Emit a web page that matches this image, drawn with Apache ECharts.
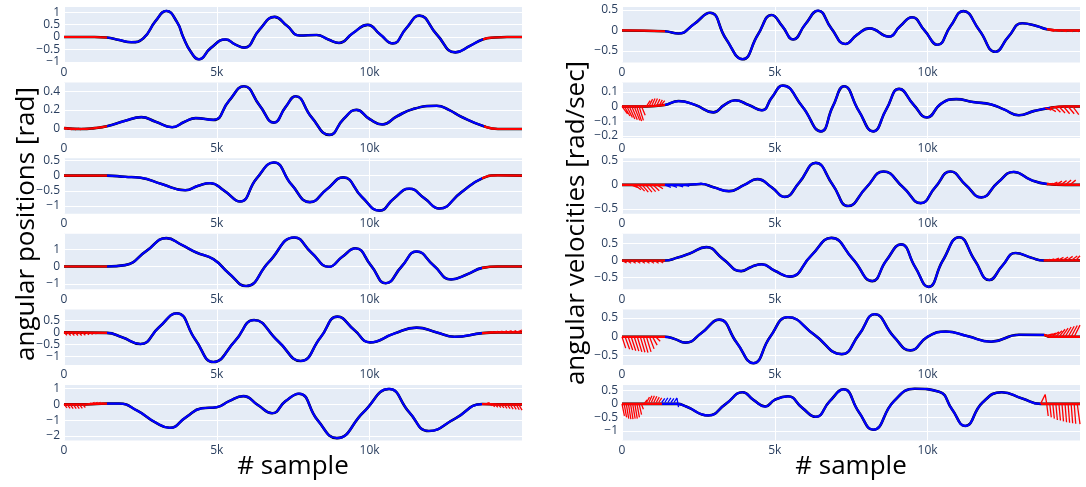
<!DOCTYPE html>
<html><head><meta charset="utf-8">
<script src="https://cdn.jsdelivr.net/npm/echarts@6/dist/echarts.min.js"></script>
<style>html,body{margin:0;padding:0;background:#fff}#c{width:1086px;height:487px}</style>
</head><body><div id="c"></div>
<script>
// ---------- data (sample index, value) ----------
const xTickValues = [0, 5000, 10000];
const xMax = 14990;

// left column: angular positions [rad]
const L1 = [[0,0],[500,0],[1000,0],[1400,-0.02],[1800,-0.12],[2200,-0.21],[2600,-0.05],[3000,0.65],[3350,1.05],[3700,0.6],[3900,0],[4150,-0.6],[4420,-0.9],[4800,-0.45],[5290,-0.1],[5600,-0.3],[5900,-0.43],[6400,0.3],[6890,0.81],[7300,0.45],[7710,0.06],[8270,0.08],[8650,-0.1],[9000,-0.24],[9450,0.15],[9940,0.49],[10350,0.1],[10760,-0.26],[11200,0.35],[11630,0.86],[12200,0.1],[12810,-0.62],[13300,-0.35],[13700,-0.1],[14100,-0.02],[14500,0],[14990,0]];
const L2 = [[0,0],[600,-0.01],[1000,0],[1400,0.02],[2000,0.08],[2530,0.12],[3000,0.07],[3540,0.01],[3950,0.07],[4310,0.11],[4890,0.09],[5400,0.3],[5890,0.46],[6400,0.25],[6870,0.06],[7250,0.23],[7580,0.35],[8100,0.12],[8690,-0.075],[9150,0.1],[9570,0.2],[10000,0.1],[10420,0.04],[10900,0.13],[11430,0.21],[12200,0.245],[12600,0.2],[13000,0.125],[13740,0.02],[14200,-0.01],[14990,-0.01]];
const L3 = [[0,0],[700,0],[1400,0],[2000,-0.04],[2500,-0.07],[3200,-0.28],[3970,-0.48],[4400,-0.33],[4780,-0.25],[5250,-0.5],[5760,-0.85],[6300,-0.1],[6870,0.43],[7450,-0.3],[8050,-0.87],[8600,-0.45],[9140,-0.06],[9750,-0.7],[10330,-1.15],[10800,-0.75],[11300,-0.43],[11800,-0.75],[12280,-1.08],[13000,-0.55],[13690,-0.09],[14200,0.01],[14990,0]];
const L4 = [[0,0],[1400,0],[2000,0.08],[2700,0.9],[3350,1.64],[3850,1.25],[4330,0.81],[4890,0.42],[5400,-0.4],[5960,-1.13],[6700,0.25],[7540,1.68],[8100,0.8],[8670,-0.02],[9100,0.55],[9540,1.05],[10050,0.05],[10530,-0.97],[11050,0],[11540,0.87],[12100,0.05],[12670,-0.75],[13200,-0.45],[13690,-0.08],[14200,0],[14990,0]];
const L5 = [[0,0],[1400,-0.02],[1900,-0.2],[2500,-0.48],[3100,0.2],[3690,0.79],[4300,-0.3],[4890,-1.22],[5600,-0.35],[6220,0.51],[7000,-0.35],[7750,-1.18],[8400,-0.2],[8950,0.65],[9500,0.1],[10020,-0.41],[10800,-0.05],[11540,0.2],[12200,0],[12780,-0.18],[13690,-0.03],[14200,0],[14990,0]];
const L6 = [[0,0],[700,0],[1400,0.05],[1800,0.05],[2400,-0.4],[3000,-1.15],[3460,-1.48],[4000,-0.8],[4500,-0.25],[5000,-0.18],[5400,0.2],[5870,0.52],[6350,-0.05],[6810,-0.56],[7250,0.2],[7690,0.67],[8300,-1.0],[8930,-2.13],[9800,-0.5],[10640,0.97],[11300,-0.5],[11940,-1.68],[12800,-0.9],[13690,0.02],[14200,0],[14990,0]];

// right column: angular velocities [rad/sec]
const R1 = [[0,0],[1400,-0.02],[1850,-0.075],[2350,0.15],[2880,0.43],[3400,-0.2],[3950,-0.7],[4450,-0.1],[4900,0.375],[5250,0.1],[5600,-0.22],[6000,0.15],[6420,0.48],[6850,0.05],[7310,-0.33],[7700,-0.1],[8100,0.05],[8730,-0.15],[9100,0.1],[9490,0.32],[9900,0],[10330,-0.35],[10750,0.1],[11170,0.47],[11700,0],[12220,-0.52],[12650,-0.15],[13100,0.175],[13600,0.1],[13900,0.03],[14400,0],[14990,0]];
const R2 = [[0,0],[800,0],[1400,0.01],[1850,0.037],[2400,0.01],[2990,-0.04],[3350,0.01],[3700,0.042],[4150,0.01],[4580,-0.026],[4900,0.06],[5260,0.143],[5900,0],[6510,-0.17],[6900,0],[7270,0.138],[7750,-0.03],[8220,-0.17],[8650,-0.02],[9070,0.12],[9550,0.01],[9980,-0.075],[10450,0.02],[10940,0.05],[11500,0.03],[12080,0.014],[12500,-0.02],[12990,-0.06],[13500,-0.03],[14000,-0.01],[14500,0],[14990,0]];
const R3 = [[0,0],[1400,0],[2000,0],[2600,0.02],[3000,-0.05],[3500,-0.13],[4000,0],[4430,0.12],[4900,-0.05],[5320,-0.25],[5800,0.05],[6340,0.46],[6900,0],[7400,-0.44],[8000,-0.05],[8560,0.28],[9200,-0.05],[9780,-0.38],[10250,-0.05],[10750,0.28],[11250,0],[11760,-0.26],[12300,0.05],[12820,0.27],[13400,0.1],[13900,0.02],[14500,0],[14990,0]];
const R4 = [[0,0],[1400,0],[1800,0.08],[2200,0.2],[2760,0.39],[3300,0.05],[3900,-0.31],[4250,-0.18],[4580,-0.11],[5000,-0.3],[5490,-0.47],[6200,0.15],[6850,0.66],[7550,0.05],[8190,-0.6],[8650,0],[9130,0.47],[9600,-0.2],[10030,-0.77],[10500,0],[11030,0.68],[11550,0],[12020,-0.57],[12450,-0.15],[12880,0.22],[13400,0.08],[13800,0],[14990,0]];
const R5 = [[0,0],[1400,0],[1700,-0.05],[2080,-0.155],[2600,0.1],[3180,0.455],[3750,-0.15],[4300,-0.7],[4850,0],[5430,0.52],[6300,0.05],[7190,-0.46],[7750,0.05],[8270,0.6],[8900,0],[9440,-0.36],[10000,0],[10600,0.14],[11300,0.02],[12080,-0.13],[12990,0.055],[13800,0.05],[14000,0],[14990,0]];
const R6 = [[0,0],[1300,0],[1800,0],[2100,-0.1],[2820,-0.43],[3400,0],[3950,0.43],[4300,0.15],[4690,-0.1],[5000,0.15],[5430,0.28],[5900,-0.15],[6340,-0.48],[6800,0.1],[7250,0.54],[7750,-0.3],[8220,-0.96],[8900,0.1],[9580,0.56],[10380,0.45],[10800,-0.2],[11230,-0.82],[11800,0.05],[12430,0.43],[13100,0.2],[13700,0],[14990,0]];

// prediction "hairs" [x0, y0, x1, y1]
const hairsL2 = [[0,0,100,-0.015],[150,0,250,-0.02],[300,0,400,-0.02],[450,0,550,-0.02],[600,0,700,-0.015]];
const hairsL5 = [[0,0,100,-0.12],[120,0,220,-0.13],[240,0,340,-0.13],[360,0,460,-0.13],[480,0,580,-0.13],[600,0,700,-0.12],[720,0,820,-0.1],[840,0,940,-0.08],[960,0,1060,-0.06],[1080,0,1180,-0.04],[1200,0,1300,-0.03],
  [13900,0,14050,0.03],[14050,0,14200,0.04],[14200,0,14350,0.05],[14350,0,14500,0.06],[14500,0,14650,0.07],[14650,0,14800,0.08],[14800,0,14990,0.1]];
const hairsL6 = [[0,0,100,-0.22],[100,0,200,-0.25],[200,0,300,-0.27],[300,0,400,-0.27],[400,0,500,-0.27],[500,0,600,-0.25],[600,0,700,-0.2],
  [800,0.02,900,0.1],[900,0.03,1000,0.12],[1000,0.04,1100,0.13],[1100,0.05,1200,0.12],[1200,0.05,1300,0.1],
  [13800,0,13900,0.12],[13900,0.12,14000,-0.1],[14000,0,14100,-0.15],[14100,0,14200,-0.18],[14200,0,14300,-0.2],[14300,0,14400,-0.22],[14400,0,14500,-0.25],[14500,0,14600,-0.27],[14600,0,14700,-0.3],[14700,0,14800,-0.32],[14800,0,14900,-0.34],[14880,0,14990,-0.36]];
const hairsR1 = [[14000,0,14150,-0.02],[14200,0,14350,-0.025],[14400,0,14550,-0.03],[14600,0,14750,-0.03],[14800,0,14950,-0.03]];
const hairsR2 = [[0,0,180,-0.05],[80,0,260,-0.065],[160,0,340,-0.075],[240,0,420,-0.085],[320,0,500,-0.09],[400,0,580,-0.095],[480,0,640,-0.1],[560,0,700,-0.095],[640,0,760,-0.06],
  [800,0,920,0.04],[880,0,1000,0.05],[960,0,1080,0.055],[1040,0,1160,0.055],[1120,0,1240,0.05],[1200,0,1320,0.045],[1280,0.01,1400,0.04],
  [13850,-0.01,14050,-0.025],[14000,-0.01,14200,-0.035],[14150,0,14350,-0.04],[14300,0,14500,-0.045],[14450,0,14650,-0.05],[14600,0,14800,-0.05],[14750,0,14950,-0.055]];
const hairsR3 = [[300,0,500,-0.05],[420,0,620,-0.1],[540,0,740,-0.13],[660,0,860,-0.15],[780,0,980,-0.15],[900,0,1100,-0.14],[1020,0,1220,-0.12],[1140,0,1340,-0.08],
  [13900,0,14100,0.03],[14050,0,14250,0.06],[14200,0,14400,0.08],[14350,0,14550,0.09],[14500,0,14700,0.1],[14650,0,14850,0.1]];
const hairsR3b = [[1400,0,1600,-0.05],[1600,0,1800,-0.05],[1800,0,2000,-0.04],[2000,0,2200,-0.03],[2400,0,2600,0.04]];
const hairsR4 = [[0,0,150,-0.07],[150,0,300,-0.08],[300,0,450,-0.08],[450,0,600,-0.08],[600,0,750,-0.08],[750,0,900,-0.08],[900,0,1050,-0.08],[1050,0,1200,-0.08],[1200,0,1350,-0.07],
  [13800,0,14000,0.03],[13950,0,14150,0.05],[14100,0,14300,0.07],[14250,0,14450,0.09],[14400,0,14600,0.1],[14550,0,14750,0.12],[14700,0,14900,0.13],[14850,0,14990,0.14]];
const hairsR5 = [[0,0,120,-0.3],[100,0,250,-0.33],[200,0,350,-0.35],[300,0,450,-0.37],[400,0,550,-0.38],[500,0,650,-0.4],[600,0,750,-0.41],[700,0,850,-0.42],[800,0,950,-0.4],[900,0,1050,-0.32],[1000,0,1150,-0.22],[1100,0,1250,-0.12],
  [13900,0.04,14100,0.08],[14000,0.03,14200,0.1],[14100,0.02,14300,0.13],[14200,0.01,14400,0.16],[14300,0,14500,0.2],[14400,0,14600,0.23],[14500,0,14700,0.26],[14600,0,14800,0.28],[14700,0,14900,0.3],[14800,0,14990,0.31]];
const hairsR6 = [[0,0,80,-0.45],[70,0,150,-0.5],[140,0,220,-0.55],[210,0,290,-0.57],[280,0,360,-0.57],[350,0,430,-0.55],[420,0,500,-0.55],[490,0,570,-0.5],[560,0,640,-0.4],[630,0,700,-0.2],
  [720,0,820,0.15],[800,0.05,900,0.25],[880,0.05,980,0.3],[960,0.05,1060,0.3],[1040,0.05,1140,0.28],[1120,0.05,1220,0.25],[1200,0.05,1300,0.22],
  [13700,0,13850,0.35],[13850,0.35,13900,0],[13900,0,13950,-0.45],[14000,0,14050,-0.5],[14100,0,14150,-0.55],[14200,0,14250,-0.6],[14300,0,14350,-0.62],[14400,0,14450,-0.65],[14500,0,14550,-0.68],[14600,0,14650,-0.7],[14700,0,14750,-0.72],[14800,0,14850,-0.74],[14900,0,14990,-0.75]];
const hairsR6b = [[1300,0.05,1400,0.2],[1400,0.05,1500,0.22],[1500,0.05,1600,0.22],[1600,0.05,1700,0.2],[1700,0.05,1800,0.22],[1800,0.2,1850,-0.12]];

// y-axis ranges and tick values
const panels = [
  {col:0,row:0,d:L1,min:-1.03,max:1.21,ticks:[-1,-0.5,0,0.5,1],b0:1400,b1:13700,hr:[],hb:[]},
  {col:0,row:1,d:L2,min:-0.11,max:0.50,ticks:[0,0.2,0.4],b0:1400,b1:13740,hr:hairsL2,hb:[]},
  {col:0,row:2,d:L3,min:-1.25,max:0.57,ticks:[-1,-0.5,0,0.5],b0:1400,b1:13690,hr:[],hb:[]},
  {col:0,row:3,d:L4,min:-1.32,max:1.89,ticks:[-1,0,1],b0:1400,b1:13690,hr:[],hb:[]},
  {col:0,row:4,d:L5,min:-1.34,max:0.95,ticks:[-1,-0.5,0,0.5],b0:1400,b1:13690,hr:hairsL5,hb:[]},
  {col:0,row:5,d:L6,min:-2.28,max:1.22,ticks:[-2,-1,0,1],b0:1400,b1:13690,hr:hairsL6,hb:[]},
  {col:1,row:0,d:R1,min:-0.78,max:0.57,ticks:[-0.5,0,0.5],b0:1400,b1:13900,hr:hairsR1,hb:[]},
  {col:1,row:1,d:R2,min:-0.216,max:0.163,ticks:[-0.2,-0.1,0,0.1],b0:1400,b1:14000,hr:hairsR2,hb:[]},
  {col:1,row:2,d:R3,min:-0.6,max:0.557,ticks:[-0.5,0,0.5],b0:1400,b1:13900,hr:hairsR3,hb:hairsR3b},
  {col:1,row:3,d:R4,min:-0.84,max:0.78,ticks:[-0.5,0,0.5],b0:1400,b1:13800,hr:hairsR4,hb:[]},
  {col:1,row:4,d:R5,min:-0.745,max:0.727,ticks:[-0.5,0,0.5],b0:1400,b1:13800,hr:hairsR5,hb:[]},
  {col:1,row:5,d:R6,min:-1.36,max:0.70,ticks:[-1,-0.5,0,0.5],b0:1300,b1:13700,hr:hairsR6,hb:hairsR6b}
];

// ---------- build option ----------
const TICK_COLOR = '#2a3f5f';
const FONT = '"Open Sans", "DejaVu Sans", sans-serif';
const colLeft = [64, 622], colWidth = [458, 458];
const top0 = 7, rowStep = 75.6, rowH = 55.5;
const fmtY = v => String(v).replace('-', '\u2212');
const fmtX = v => v === 0 ? '0' : (v / 1000) + 'k';
const hairData = hs => { const out = []; hs.forEach(h => { out.push([h[0], h[1]], [h[2], h[3]], [h[2], null]); }); return out; };

const grids = [], xAxes = [], yAxes = [], series = [], visualMaps = [];
panels.forEach((p, i) => {
  grids.push({left: colLeft[p.col], width: colWidth[p.col], top: top0 + rowStep * p.row, height: rowH,
    show: true, backgroundColor: '#E5ECF6', borderWidth: 0});
  xAxes.push({type: 'value', gridIndex: i, min: 0, max: xMax,
    axisLine: {show: false}, axisTick: {show: false, customValues: xTickValues},
    axisLabel: {customValues: xTickValues, formatter: fmtX, color: TICK_COLOR, fontSize: 12, fontFamily: FONT, margin: 4},
    splitLine: {show: true, lineStyle: {color: '#ffffff', width: 1}}});
  yAxes.push({type: 'value', gridIndex: i, min: p.min, max: p.max,
    axisLine: {show: false}, axisTick: {show: false, customValues: p.ticks},
    axisLabel: {customValues: p.ticks, formatter: fmtY, color: TICK_COLOR, fontSize: 12, fontFamily: FONT, margin: 4},
    splitLine: {show: true, lineStyle: {color: '#ffffff', width: 1}}});
  const base = {type: 'line', xAxisIndex: i, yAxisIndex: i, showSymbol: false, symbol: 'none', smooth: 0.5, animation: false, silent: true};
  series.push(Object.assign({}, base, {data: p.d, z: 2, lineStyle: {color: '#000000', width: 2.6}}));
  visualMaps.push({type: 'piecewise', show: false, dimension: 0, seriesIndex: series.length,
    pieces: [{lt: p.b0, color: '#ff0000'}, {gte: p.b0, lte: p.b1, color: '#0000ff'}, {gt: p.b1, color: '#ff0000'}]});
  series.push(Object.assign({}, base, {data: p.d, z: 3, lineStyle: {width: 2.2}}));
  if (p.hr.length) series.push(Object.assign({}, base, {smooth: false, connectNulls: false, data: hairData(p.hr), z: 4, lineStyle: {color: '#ff0000', width: 1.3}}));
  if (p.hb.length) series.push(Object.assign({}, base, {smooth: false, connectNulls: false, data: hairData(p.hb), z: 4, lineStyle: {color: '#0000ff', width: 1.3}}));
});

const titleStyle = (t) => ({text: t, fontSize: 26, fontFamily: FONT, fill: '#000000', align: 'center', verticalAlign: 'middle'});
const option = {
  animation: false,
  grid: grids, xAxis: xAxes, yAxis: yAxes, series: series, visualMap: visualMaps,
  graphic: [
    {type: 'text', x: 27, y: 224, rotation: Math.PI / 2, style: titleStyle('angular positions [rad]')},
    {type: 'text', x: 577, y: 223, rotation: Math.PI / 2, style: titleStyle('angular velocities [rad/sec]')},
    {type: 'text', x: 293, y: 467, style: titleStyle('# sample')},
    {type: 'text', x: 851, y: 467, style: titleStyle('# sample')}
  ]
};
const chart = echarts.init(document.getElementById('c'), null, {renderer: 'canvas'});
chart.setOption(option);
</script>
</body></html>
